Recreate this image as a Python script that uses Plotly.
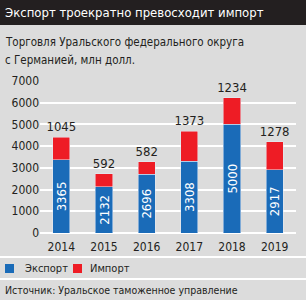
import plotly.graph_objects as go

years = ["2014", "2015", "2016", "2017", "2018", "2019"]
export_vals = [3365, 2132, 2696, 3308, 5000, 2917]
import_vals = [1045, 592, 582, 1373, 1234, 1278]
y_ticks = [0, 1000, 2000, 3000, 4000, 5000, 6000, 7000]
series_names = ["Экспорт", "Импорт"]

title_text = "Экспорт троекратно превосходит импорт"
subtitle_lines = ["Торговля Уральского федерального округа", "с Германией, млн долл."]
source_text = "Источник: Уральское таможенное управление"

FONT = "DejaVu Sans Condensed, Roboto, sans-serif"
BG = "#dcdcdc"
BLUE = "#1a6bb8"
RED = "#ee1c25"
DARK = "#231f20"

W, H = 306, 300
ML, MR, MT, MB = 40, 10, 81, 67
PW = W - ML - MR
PH = H - MT - MB


def px_x(x):
    return (x - ML) / PW


def px_y(y):
    return (H - MB - y) / PH


fig = go.Figure()
fig.add_trace(go.Bar(
    x=years, y=export_vals, name=series_names[0], marker_color=BLUE,
    text=[str(v) for v in export_vals], textposition="inside",
    insidetextanchor="middle", textangle=-90,
    textfont=dict(color="white", size=13, family=FONT),
))
fig.add_trace(go.Bar(
    x=years, y=import_vals, name=series_names[1], marker_color=RED,
    text=[str(v) for v in import_vals], textposition="outside",
    textangle=0, cliponaxis=False,
    textfont=dict(color=DARK, size=12, family=FONT),
))

shapes = [
    dict(type="rect", xref="paper", yref="paper", x0=px_x(0), x1=px_x(W),
         y0=px_y(25), y1=px_y(0), fillcolor=DARK, line_width=0, layer="below"),
    dict(type="line", xref="paper", yref="paper", x0=px_x(0), x1=px_x(W),
         y0=px_y(257), y1=px_y(257), line=dict(color="white", width=2)),
    dict(type="line", xref="paper", yref="paper", x0=px_x(0), x1=px_x(W),
         y0=px_y(279), y1=px_y(279), line=dict(color="white", width=2)),
    # legend swatches
    dict(type="rect", xref="paper", yref="paper", x0=px_x(5), x1=px_x(14),
         y0=px_y(273), y1=px_y(264), fillcolor=BLUE, line_width=0),
    dict(type="rect", xref="paper", yref="paper", x0=px_x(73), x1=px_x(82),
         y0=px_y(273), y1=px_y(264), fillcolor=RED, line_width=0),
]

annotations = [
    dict(text=title_text, xref="paper", yref="paper", x=px_x(3), y=px_y(12.5),
         xanchor="left", yanchor="middle", showarrow=False,
         font=dict(color="white", size=13, family=FONT)),
    dict(text=subtitle_lines[0], xref="paper", yref="paper", x=px_x(3), y=px_y(42),
         xanchor="left", yanchor="middle", showarrow=False,
         font=dict(color=DARK, size=11.5, family=FONT)),
    dict(text=subtitle_lines[1], xref="paper", yref="paper", x=px_x(3), y=px_y(60),
         xanchor="left", yanchor="middle", showarrow=False,
         font=dict(color=DARK, size=11.5, family=FONT)),
    dict(text=series_names[0], xref="paper", yref="paper", x=px_x(23), y=px_y(268.5),
         xanchor="left", yanchor="middle", showarrow=False,
         font=dict(color=DARK, size=11, family=FONT)),
    dict(text=series_names[1], xref="paper", yref="paper", x=px_x(88), y=px_y(268.5),
         xanchor="left", yanchor="middle", showarrow=False,
         font=dict(color=DARK, size=11, family=FONT)),
    dict(text=source_text, xref="paper", yref="paper", x=px_x(3), y=px_y(290),
         xanchor="left", yanchor="middle", showarrow=False,
         font=dict(color=DARK, size=10.5, family=FONT)),
]

fig.update_layout(
    width=W, height=H,
    margin=dict(l=ML, r=MR, t=MT, b=MB),
    paper_bgcolor=BG, plot_bgcolor=BG,
    barmode="stack", bargap=0.6,
    font=dict(family=FONT, color=DARK, size=12),
    showlegend=False,
    shapes=shapes, annotations=annotations,
    uniformtext=dict(minsize=13, mode="show"),
)
fig.update_xaxes(showgrid=False, showline=False, ticks="", ticklabelstandoff=5, automargin=False,
                 tickfont=dict(size=12, family=FONT, color=DARK))
fig.update_yaxes(range=[0, 7000], tickvals=y_ticks, gridcolor="white", gridwidth=1.5,
                 zeroline=True, zerolinecolor="white", zerolinewidth=1.5, automargin=False,
                 showline=False, ticks="", tickfont=dict(size=12, family=FONT, color=DARK))

fig.write_html("out.html")
